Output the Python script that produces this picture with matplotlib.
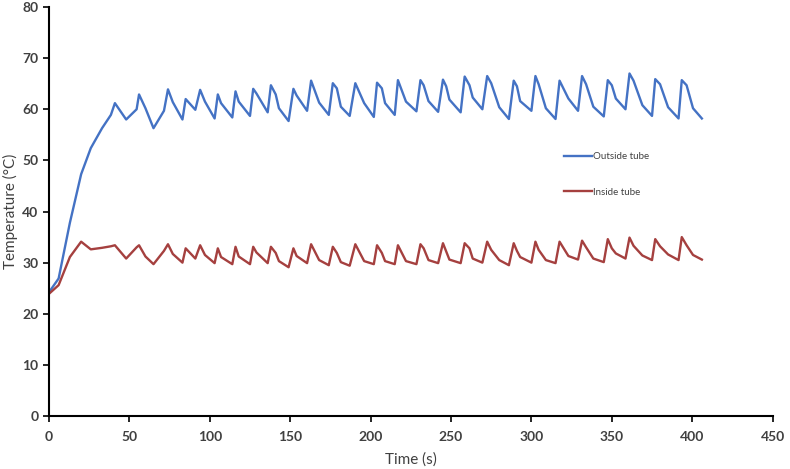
"""Temperature outside / inside tube"""
import matplotlib.pyplot as plt

plt.rcParams["font.family"] = ["Lato", "DejaVu Sans"]

# data
time_s = [0, 6, 13, 20, 26, 33, 38.5, 41, 48, 54.5, 56, 60, 65, 71.5, 74, 77,
          83, 85, 91, 94, 97, 103, 105, 107, 114, 116, 118, 125, 127, 129,
          136, 138, 141, 143, 149, 152, 154, 160.5, 163, 168, 174, 176.5, 179,
          181.5, 187, 190.5, 196, 202, 204, 207, 209, 215, 217, 222, 228.5,
          231, 233, 236, 242, 245, 247, 249, 256, 258.5, 261.5, 263.5, 269.5,
          272.5, 275, 280, 286, 289, 291, 293, 300, 302.5, 304.5, 309, 315,
          317.5, 323, 329, 331.5, 334, 338.5, 345, 347.5, 350, 352.5, 358.5,
          361, 363.5, 369, 375, 377, 380, 385, 391.5, 393.5, 396.5, 400.5, 406]

outside = [24.2, 26.9, 37.8, 47.3, 52.4, 56.3, 58.9, 61.2, 58.0, 60.0, 62.9,
           60.2, 56.3, 59.7, 63.9, 61.4, 58.0, 62.0, 59.9, 63.8, 61.5, 58.2,
           62.9, 61.2, 58.4, 63.5, 61.5, 58.7, 64.0, 63.1, 59.4, 64.7, 62.9,
           60.2, 57.7, 64.0, 62.7, 59.7, 65.6, 61.3, 58.9, 65.1, 64.1, 60.5,
           58.7, 65.1, 61.2, 58.5, 65.2, 64.1, 61.2, 58.9, 65.7, 61.5, 59.6,
           65.7, 64.7, 61.6, 59.5, 65.8, 64.5, 61.9, 59.4, 66.4, 64.7, 62.3,
           60.0, 66.5, 65.1, 60.4, 58.1, 65.6, 64.5, 61.6, 59.7, 66.5, 64.9,
           60.2, 58.1, 65.6, 62.1, 59.7, 66.5, 64.9, 60.5, 58.6, 65.7, 64.7,
           62.1, 60.0, 67.0, 65.6, 60.8, 58.7, 65.9, 64.9, 60.4, 58.2, 65.7,
           64.7, 60.2, 58.2]

inside = [23.9, 25.6, 31.1, 34.1, 32.6, 32.9, 33.2, 33.4, 30.8, 33.0, 33.4,
          31.2, 29.7, 32.3, 33.6, 31.7, 30.0, 32.8, 30.8, 33.4, 31.5, 29.9,
          32.8, 31.1, 29.7, 33.1, 31.2, 29.7, 33.1, 32.0, 29.9, 33.1, 31.9,
          30.3, 29.1, 32.8, 31.3, 29.9, 33.6, 30.5, 29.5, 33.1, 31.9, 30.1,
          29.4, 33.6, 30.3, 29.7, 33.4, 31.9, 30.3, 29.7, 33.4, 30.3, 29.7,
          33.6, 32.8, 30.5, 29.9, 33.8, 32.2, 30.6, 29.9, 33.8, 32.8, 30.8,
          30.0, 34.1, 32.5, 30.5, 29.5, 33.8, 32.3, 31.1, 30.0, 34.1, 32.5,
          30.5, 29.9, 34.1, 31.3, 30.6, 34.3, 33.0, 30.8, 30.1, 34.6, 32.8,
          31.8, 30.8, 34.9, 33.3, 31.4, 30.5, 34.6, 33.2, 31.6, 30.5, 35.0,
          33.4, 31.5, 30.6]

x_ticks = list(range(0, 451, 50))
y_ticks = list(range(0, 81, 10))

# plotting
fig = plt.figure(figsize=(7.9, 4.69), dpi=100)
ax = fig.add_axes([0.062, 0.113, 0.916, 0.872])
ax.plot(time_s, outside, color="#4472C4", lw=1.7, label="Outside tube")
ax.plot(time_s, inside, color="#A5403F", lw=1.7, label="Inside tube")

ax.set_xlim(0, 450)
ax.set_ylim(0, 80)
ax.set_xticks(x_ticks)
ax.set_yticks(y_ticks)
ax.spines[["top", "right"]].set_visible(False)
for s in ("left", "bottom"):
    ax.spines[s].set_linewidth(1.5)
ax.tick_params(direction="out", length=4, width=1.2, labelsize=10,
               labelcolor="#404040")
ax.tick_params(axis="x", pad=7)
for lbl in ax.get_xticklabels() + ax.get_yticklabels():
    lbl.set_fontweight("bold")
ax.set_xlabel("Time (s)", fontsize=11, color="#404040")
ax.set_ylabel("Temperature (°C)", fontsize=11, color="#404040")
ax.xaxis.set_label_coords(0.5, -0.088)
ax.yaxis.set_label_coords(-0.043, 0.5)

ax.legend(loc="upper left", bbox_to_anchor=(0.70, 0.667), frameon=False,
          fontsize=7, labelspacing=2.75, handlelength=2.8, handletextpad=0.2,
          labelcolor="#404040")

fig.savefig("out.png", dpi=100)
